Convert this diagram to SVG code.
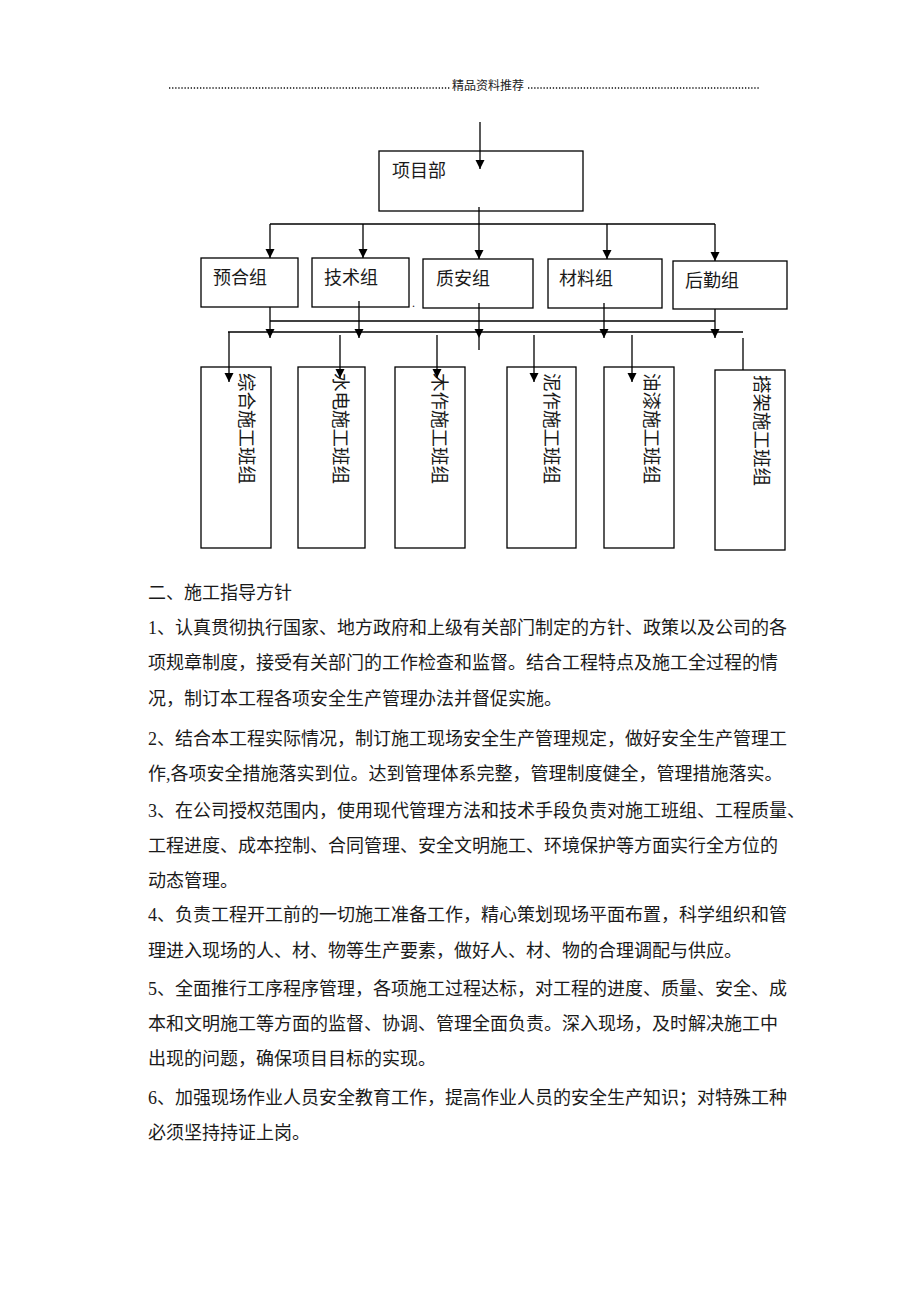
<svg xmlns="http://www.w3.org/2000/svg" width="920" height="1302" viewBox="0 0 920 1302">
<defs>
<marker id="arr" markerUnits="userSpaceOnUse" markerWidth="10" markerHeight="10" refX="9" refY="4.5" orient="auto">
<path d="M0,0 L9,4.5 L0,9 z" fill="#000"/>
</marker>
<style>
.box{fill:#fff;stroke:#000;stroke-width:1.3}
.ln{fill:none;stroke:#000;stroke-width:1.3}
.ar{fill:none;stroke:#000;stroke-width:1.3;marker-end:url(#arr)}
.t{font-family:"Liberation Serif","Noto Sans CJK SC",serif;font-size:18px;fill:#1a1a1a}
.vt{font-family:"Liberation Serif","Noto Sans CJK SC",serif;font-size:18.5px;fill:#1a1a1a}
.hd{font-family:"Liberation Serif","Noto Sans CJK SC",serif;font-size:12px;fill:#222}
.dots{stroke:#111;stroke-width:1.4;stroke-dasharray:1.3 1.8}
</style>
</defs>
<rect width="920" height="1302" fill="#fff"/>

<g id="header">
<line class="dots" x1="169" y1="88" x2="450" y2="88"/>
<text class="hd" x="452" y="90">精品资料推荐</text>
<line class="dots" x1="528" y1="88" x2="760" y2="88"/>
</g>

<g id="n-xmb"><rect class="box" x="379" y="151" width="204" height="60"/><text class="t" x="392" y="177">项目部</text></g>
<g id="n-yhz"><rect class="box" x="201" y="258" width="97" height="49"/><text class="t" x="213" y="284">预合组</text></g>
<g id="n-jsz"><rect class="box" x="312" y="258" width="97" height="49"/><text class="t" x="324" y="284">技术组</text></g>
<g id="n-zaz"><rect class="box" x="423" y="259" width="110" height="49"/><text class="t" x="436" y="285">质安组</text></g>
<g id="n-clz"><rect class="box" x="548" y="259" width="114" height="49"/><text class="t" x="559" y="285">材料组</text></g>
<g id="n-hqz"><rect class="box" x="673" y="261" width="114" height="48"/><text class="t" x="685" y="287">后勤组</text></g>
<text class="hd" x="412" y="307">.</text>

<g id="n-zh"><rect class="box" x="201" y="367" width="70" height="181"/><text class="vt" transform="translate(240,373) rotate(90)">综合施工班组</text></g>
<g id="n-sd"><rect class="box" x="298" y="367" width="67" height="181"/><text class="vt" transform="translate(334,373) rotate(90)">水电施工班组</text></g>
<g id="n-mz"><rect class="box" x="395" y="367" width="70" height="181"/><text class="vt" transform="translate(433,373) rotate(90)">木作施工班组</text></g>
<g id="n-nz"><rect class="box" x="507" y="367" width="69" height="181"/><text class="vt" transform="translate(545,373) rotate(90)">泥作施工班组</text></g>
<g id="n-yq"><rect class="box" x="604" y="367" width="70" height="181"/><text class="vt" transform="translate(645,373) rotate(90)">油漆施工班组</text></g>
<g id="n-dj"><rect class="box" x="715" y="370" width="70" height="180"/><text class="vt" transform="translate(755,375) rotate(90)">搭架施工班组</text></g>

<g id="connectors">
<line class="ar" x1="480" y1="122" x2="480" y2="169"/>
<line class="ar" x1="479" y1="207" x2="479" y2="259"/>
<line class="ln" x1="270" y1="224" x2="715" y2="224"/>
<line class="ar" x1="270" y1="224" x2="270" y2="258"/>
<line class="ar" x1="363" y1="224" x2="363" y2="258"/>
<line class="ar" x1="607" y1="224" x2="607" y2="259"/>
<line class="ar" x1="715" y1="224" x2="715" y2="261"/>
<line class="ln" x1="270" y1="321" x2="715" y2="321"/>
<line class="ln" x1="228" y1="332" x2="743" y2="332"/>
<line class="ar" x1="270" y1="307" x2="270" y2="338"/>
<line class="ar" x1="359" y1="301" x2="359" y2="338"/>
<line class="ln" x1="479" y1="303" x2="479" y2="350"/>
<path d="M474.5,329 L483.5,329 L479,338 z" fill="#000"/>
<line class="ar" x1="604" y1="303" x2="604" y2="338"/>
<line class="ar" x1="715" y1="309" x2="715" y2="338"/>
<line class="ar" x1="229" y1="332" x2="229" y2="382"/>
<line class="ar" x1="340" y1="335" x2="340" y2="378"/>
<line class="ar" x1="437" y1="335" x2="437" y2="378"/>
<line class="ar" x1="534" y1="335" x2="534" y2="382"/>
<line class="ar" x1="632" y1="335" x2="632" y2="382"/>
<line class="ln" x1="743" y1="338" x2="743" y2="370"/>
</g>

<g id="body">
<text class="t" x="148" y="599">二、施工指导方针</text>
<text class="t" x="148" y="634">1、认真贯彻执行国家、地方政府和上级有关部门制定的方针、政策以及公司的各</text>
<text class="t" x="148" y="669">项规章制度，接受有关部门的工作检查和监督。结合工程特点及施工全过程的情</text>
<text class="t" x="148" y="705">况，制订本工程各项安全生产管理办法并督促实施。</text>
<text class="t" x="148" y="745">2、结合本工程实际情况，制订施工现场安全生产管理规定，做好安全生产管理工</text>
<text class="t" x="148" y="780">作,各项安全措施落实到位。达到管理体系完整，管理制度健全，管理措施落实。</text>
<text class="t" x="148" y="817">3、在公司授权范围内，使用现代管理方法和技术手段负责对施工班组、工程质量、</text>
<text class="t" x="148" y="852">工程进度、成本控制、合同管理、安全文明施工、环境保护等方面实行全方位的</text>
<text class="t" x="148" y="887">动态管理。</text>
<text class="t" x="148" y="921">4、负责工程开工前的一切施工准备工作，精心策划现场平面布置，科学组织和管</text>
<text class="t" x="148" y="957">理进入现场的人、材、物等生产要素，做好人、材、物的合理调配与供应。</text>
<text class="t" x="148" y="995">5、全面推行工序程序管理，各项施工过程达标，对工程的进度、质量、安全、成</text>
<text class="t" x="148" y="1030">本和文明施工等方面的监督、协调、管理全面负责。深入现场，及时解决施工中</text>
<text class="t" x="148" y="1065">出现的问题，确保项目目标的实现。</text>
<text class="t" x="148" y="1104">6、加强现场作业人员安全教育工作，提高作业人员的安全生产知识；对特殊工种</text>
<text class="t" x="148" y="1139">必须坚持持证上岗。</text>
</g>
</svg>
